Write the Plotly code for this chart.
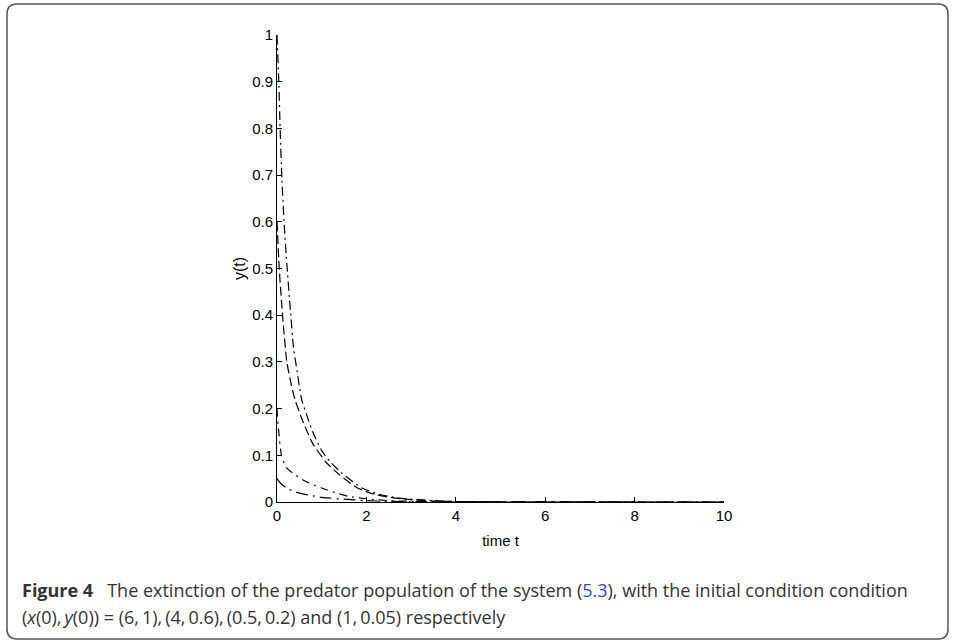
import plotly.graph_objects as go

# time samples and y(t) values
t_a = [0, 0.04, 0.07, 0.11, 0.17, 0.22, 0.3, 0.37, 0.45, 0.55, 0.67, 0.8, 1.0, 1.2, 1.45, 1.9, 2.3, 2.7, 3.0, 3.5, 4.0, 5.0, 10]
y_a = [1.0, 0.9, 0.8, 0.69, 0.58, 0.51, 0.41, 0.33, 0.28, 0.22, 0.185, 0.15, 0.11, 0.085, 0.062, 0.03, 0.016, 0.009, 0.006, 0.003, 0.001, 0.0, 0.0]

t_b = [0, 0.05, 0.1, 0.15, 0.22, 0.3, 0.4, 0.57, 0.8, 1.1, 1.4, 1.8, 2.2, 2.6, 3.0, 3.5, 4.0, 5.0, 10]
y_b = [0.6, 0.5, 0.43, 0.37, 0.30, 0.26, 0.22, 0.175, 0.125, 0.085, 0.058, 0.03, 0.016, 0.009, 0.005, 0.002, 0.001, 0.0, 0.0]

t_c = [0, 0.03, 0.1, 0.2, 0.35, 0.6, 1.0, 1.3, 1.6, 2.0, 2.5, 3.0, 4.0, 10]
y_c = [0.2, 0.16, 0.1, 0.075, 0.062, 0.046, 0.03, 0.02, 0.012, 0.007, 0.003, 0.0015, 0.0005, 0.0]

t_d = [0, 0.1, 0.25, 0.5, 0.75, 1.0, 1.5, 2.0, 2.5, 3.0, 4.0, 10]
y_d = [0.05, 0.038, 0.028, 0.019, 0.014, 0.010, 0.006, 0.003, 0.0015, 0.0008, 0.0003, 0.0]

x_ticks = [0, 2, 4, 6, 8, 10]
y_ticks = [0, 0.1, 0.2, 0.3, 0.4, 0.5, 0.6, 0.7, 0.8, 0.9, 1]
y_tick_text = ["0", "0.1", "0.2", "0.3", "0.4", "0.5", "0.6", "0.7", "0.8", "0.9", "1"]

series = [
    ("(6,1)", t_a, y_a, "9px,4px,2px,4px"),
    ("(4,0.6)", t_b, y_b, "9px,4px"),
    ("(0.5,0.2)", t_c, y_c, "8px,5px,2px,5px"),
    ("(1,0.05)", t_d, y_d, "12px,5px,2px,5px"),
]

fig = go.Figure()
for name, tx, ty, dash in series:
    fig.add_trace(go.Scatter(x=tx, y=ty, mode="lines", name=name,
                             line=dict(color="black", width=1.2, dash=dash, shape="spline", smoothing=0.6),
                             showlegend=False))

W, H = 955, 640
L, R, T, B = 277, 231, 35, 138
pw, ph = W - L - R, H - T - B

def px(xp):
    return (xp - L) / pw

def py(yp):
    return (H - B - yp) / ph

tickfont = dict(family="Liberation Sans, Arial, sans-serif", size=15, color="black")
fig.update_layout(
    width=W, height=H,
    margin=dict(l=L, r=R, t=T, b=B),
    paper_bgcolor="white", plot_bgcolor="white",
    xaxis=dict(range=[0, 10], tickvals=x_ticks, ticktext=[str(v) for v in x_ticks],
               ticks="inside", ticklen=5, tickcolor="black", showline=True, linecolor="black",
               linewidth=1, showgrid=False, zeroline=False, tickfont=tickfont,
               title=dict(text="time t", font=tickfont, standoff=12)),
    yaxis=dict(range=[0, 1], tickvals=y_ticks, ticktext=y_tick_text,
               ticks="inside", ticklen=5, tickcolor="black", showline=True, linecolor="black",
               linewidth=1, showgrid=False, zeroline=False, tickfont=tickfont,
               title=dict(text="y(t)", font=dict(family="Liberation Sans, Arial, sans-serif", size=16, color="black"), standoff=2)),
)

# rounded caption frame
x0, x1 = px(7), px(948)
y0, y1 = py(639), py(4)
rx, ry = 10 / pw, 10 / ph
path = (f"M {x0+rx},{y1} L {x1-rx},{y1} Q {x1},{y1} {x1},{y1-ry} "
        f"L {x1},{y0+ry} Q {x1},{y0} {x1-rx},{y0} L {x0+rx},{y0} "
        f"Q {x0},{y0} {x0},{y0+ry} L {x0},{y1-ry} Q {x0},{y1} {x0+rx},{y1} Z")
fig.add_shape(type="path", path=path, xref="paper", yref="paper",
              line=dict(color="#555555", width=1.5), fillcolor="rgba(0,0,0,0)", layer="below")

capfont = dict(family="Open Sans, Noto Sans, sans-serif", size=18, color="#333333")
line1 = ("<b>Figure 4</b>\u00a0\u00a0\u00a0The extinction of the predator population of the system "
         "(<span style='color:#3b3bff'>5.3</span>), with the initial condition condition")
line2 = ("(<i>x</i>(0),\u2009<i>y</i>(0)) = (6,\u20091),\u2009(4,\u20090.6),\u2009(0.5,\u20090.2) "
         "and (1,\u20090.05) respectively")
fig.add_annotation(text=line1, xref="paper", yref="paper", x=px(20), y=py(590),
                   xanchor="left", yanchor="middle", showarrow=False, font=capfont)
fig.add_annotation(text=line2, xref="paper", yref="paper", x=px(20), y=py(617),
                   xanchor="left", yanchor="middle", showarrow=False, font=capfont)

fig.write_html("out.html", config={"displayModeBar": False},
               post_script="document.body.style.margin='0';")
